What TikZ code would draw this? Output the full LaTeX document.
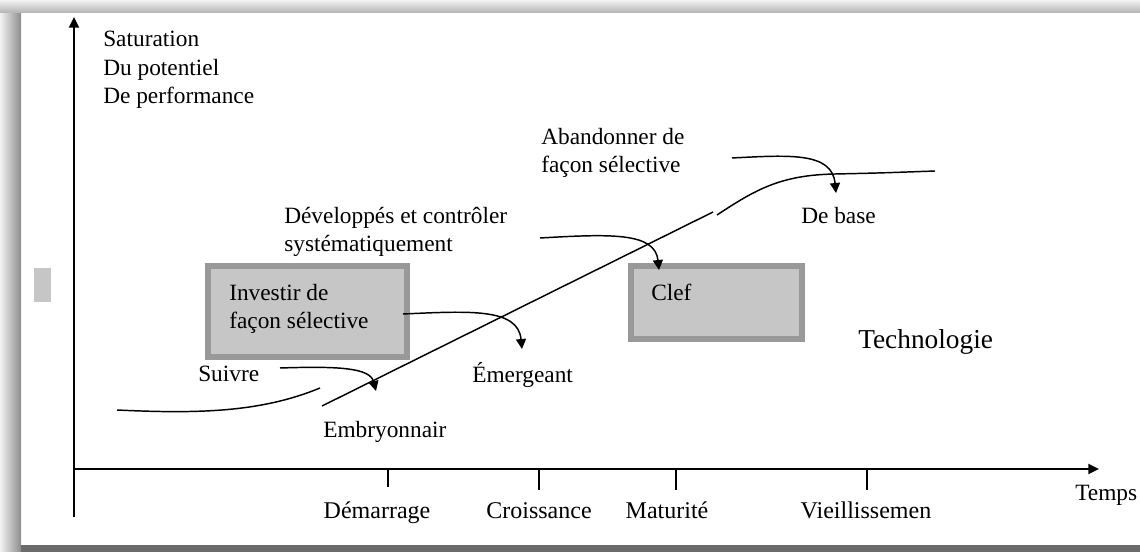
\documentclass[tikz,border=0pt]{standalone}
\usepackage{fontspec}
\setmainfont{Liberation Serif}
\usetikzlibrary{arrows.meta}
\definecolor{boxborder}{RGB}{153,153,153}
\definecolor{boxfill}{RGB}{198,198,198}
\begin{document}
\begin{tikzpicture}[x=0.75pt,y=-0.75pt,
  lbl/.style={anchor=base west, inner sep=0pt, font=\fontsize{17.5}{21.5}\selectfont, align=left},
  ticklbl/.style={anchor=base, inner sep=0pt, font=\fontsize{18}{21.5}\selectfont},
  curve/.style={line width=1.1pt},
  arr/.style={line width=1.1pt, -{Triangle[length=7.5pt,width=7.5pt]}},
  axis/.style={line width=1.4pt, -{Triangle[length=8pt,width=7.5pt]}},
  tickline/.style={line width=1.2pt},
  gbox/.style={draw=boxborder, fill=boxfill, line width=4.5pt, inner sep=0pt, outer sep=0pt}
]
\useasboundingbox (0,0) rectangle (1140,552);
% frame shadow
\shade[left color=black!5, right color=black!45] (0,0) rectangle (21,552);
\shade[top color=black!5, bottom color=black!30] (0,0) rectangle (1140,13);
\fill[black!58] (21,545) rectangle (1140,552);
\fill[boxfill] (34,268) rectangle (51,302);

% axes
\coordinate (ybot) at (74,517);
\coordinate (ytop) at (74,17);
\coordinate (O) at (74,469);
\coordinate (xend) at (1099,469);
\draw[axis] (ybot) -- (ytop);
\draw[axis] (O) -- (xend);

% ticks
\coordinate (t1) at (388,469); \coordinate (t1b) at (388,487);
\coordinate (t2) at (539,469); \coordinate (t2b) at (539,490);
\coordinate (t3) at (676,469); \coordinate (t3b) at (676,490);
\coordinate (t4) at (867,469); \coordinate (t4b) at (867,490);
\draw[tickline] (t1) -- (t1b);
\draw[tickline] (t2) -- (t2b);
\draw[tickline] (t3) -- (t3b);
\draw[tickline] (t4) -- (t4b);
\node[ticklbl] (dem) at (377,518) {Démarrage};
\node[ticklbl] (cro) at (539,518) {Croissance};
\node[ticklbl] (mat) at (667,518) {Maturité};
\node[ticklbl] (vie) at (866,518) {Vieillissemen};
\node[lbl] (temps) at (1075,501) {Temps};

% y label (base anchor = last line)
\node[lbl] (ylab) at (103,104) {Saturation\\Du potentiel\\De performance};

% boxes
\node[gbox, minimum width=149.25pt, minimum height=68.25pt] (inv) at (307.5,311.5) {};
\node[lbl] (invt) at (229,329) {Investir de\\façon sélective};
\node[gbox, minimum width=128.25pt, minimum height=54.75pt] (clef) at (716.5,302.5) {};
\node[lbl] (cleft) at (651,301) {Clef};

% labels
\node[lbl] (suivre) at (198,382) {Suivre};
\node[lbl] (embr) at (323,438) {Embryonnair};
\node[lbl] (emer) at (472,383) {Émergeant};
\node[lbl] (dev) at (284,252) {Développés et contrôler\\systématiquement};
\node[lbl] (aband) at (541,173) {Abandonner de\\façon sélective};
\node[lbl] (base) at (801,224) {De base};
\node[lbl, font=\fontsize{20.5}{24}\selectfont] (techno) at (858,349) {Technologie};

% technology curve
\coordinate (c0) at (117,410);
\coordinate (c1) at (320,388);
\coordinate (d0) at (322,406);
\coordinate (d1) at (713,212);
\coordinate (u0) at (717,215);
\coordinate (u1) at (835,174);
\coordinate (u2) at (935,171);
\draw[curve] (c0) .. controls (200,414) and (262,412) .. (c1);
\draw[curve] (d0) -- (d1);
\draw[curve] (u0) .. controls (755,190) and (780,175) .. (u1) .. controls (880,173) .. (u2);

% arrows
\coordinate (s1) at (280,368); \coordinate (e1) at (376,391);
\coordinate (s2) at (403,314); \coordinate (e2) at (522,349);
\coordinate (s3) at (540,238); \coordinate (e3) at (659,270);
\coordinate (s4) at (732,158); \coordinate (e4) at (836,193);
\draw[arr] (s1) .. controls (340,366) and (370,368) .. (e1);
\draw[arr] (s2) .. controls (470,311) and (518,308) .. (e2);
\draw[arr] (s3) .. controls (610,234) and (655,232) .. (e3);
\draw[arr] (s4) .. controls (790,155) and (832,152) .. (e4);
\end{tikzpicture}
\end{document}
